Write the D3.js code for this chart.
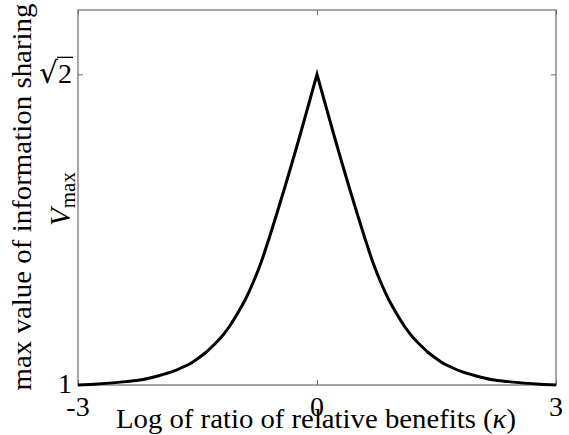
<!DOCTYPE html>
<html>
<head>
<meta charset="utf-8">
<script src="https://cdn.jsdelivr.net/npm/d3@7"></script>
<style>
  body { margin: 0; background: #fff; }
  text { font-family: "Liberation Serif", "DejaVu Serif", serif; fill: #000; }
</style>
</head>
<body>
<div id="my_dataviz"></div>
<script>
// values (curve is symmetric about kappa = 0)
var kappaHalf = [0, 0.1, 0.2, 0.3, 0.4, 0.5, 0.6, 0.7, 0.8, 0.9, 1.0, 1.1, 1.2, 1.3, 1.4, 1.5, 1.6, 1.7, 1.8, 2.0, 2.2, 2.4, 2.6, 2.8, 3.0];
var vmaxHalf  = [1.4142, 1.376, 1.338, 1.301, 1.265, 1.230, 1.196, 1.164, 1.137, 1.114, 1.095, 1.078, 1.064, 1.053, 1.043, 1.035, 1.028, 1.023, 1.0185, 1.012, 1.007, 1.0045, 1.0025, 1.001, 1.000];
var xTicks = [-3, 0, 3];
var xTickLabels = ["-3", "0", "3"];
var yTicks = [1, Math.SQRT2];

var width = 569, height = 435;
var margin = {top: 10, right: 13, bottom: 50, left: 78};
var w = width - margin.left - margin.right,
    h = height - margin.top - margin.bottom;

var svg = d3.select("#my_dataviz")
  .append("svg")
    .attr("width", width)
    .attr("height", height);

var g = svg.append("g")
    .attr("transform", "translate(" + margin.left + "," + margin.top + ")");

var x = d3.scaleLinear().domain([-3, 3]).range([0, w]);
var y = d3.scaleLinear().domain([1, 1.5]).range([h, 0]);

// the two halves of the curve, joined at the cusp
var leftHalf = kappaHalf.map((k, i) => [-k, vmaxHalf[i]]).reverse();
var rightHalf = kappaHalf.map((k, i) => [k, vmaxHalf[i]]);

var axisColor = "#6b6b6b";

// box
g.append("rect")
  .attr("x", 0).attr("y", 0)
  .attr("width", w).attr("height", h)
  .attr("fill", "none")
  .attr("stroke", axisColor)
  .attr("stroke-width", 1.2);

// inward ticks on all sides
function ticks(sel) {
  sel.select(".domain").remove();
  sel.selectAll("line").attr("stroke", axisColor);
}
g.append("g").attr("transform", "translate(0," + h + ")")
  .call(d3.axisBottom(x).tickValues(xTicks).tickSize(-5).tickFormat(""))
  .call(ticks);
g.append("g")
  .call(d3.axisTop(x).tickValues(xTicks).tickSize(-5).tickFormat(""))
  .call(ticks);
g.append("g")
  .call(d3.axisLeft(y).tickValues(yTicks).tickSize(-5).tickFormat(""))
  .call(ticks);
g.append("g").attr("transform", "translate(" + w + ",0)")
  .call(d3.axisRight(y).tickValues(yTicks).tickSize(-5).tickFormat(""))
  .call(ticks);

// x tick labels
g.selectAll(".xlab")
  .data(xTicks)
  .enter()
  .append("text")
    .attr("class", "xlab")
    .attr("x", d => x(d))
    .attr("y", h + 31)
    .attr("font-size", "28px")
    .style("text-anchor", "middle")
    .text((d, i) => xTickLabels[i]);

// y tick labels
g.append("text")
  .attr("x", -6).attr("y", y(1) + 8)
  .attr("font-size", "28px")
  .style("text-anchor", "end")
  .text("1");
var sq = g.append("text")
  .attr("x", -6).attr("y", y(Math.SQRT2) + 9)
  .attr("font-size", "28px")
  .style("text-anchor", "end");
sq.append("tspan").attr("font-family", "DejaVu Serif").attr("font-size", "30px").text("\u221A");
var two = sq.append("tspan").text("2");
// radical bar over the 2
var bb = two.node().getBBox();
g.append("line")
  .attr("x1", bb.x - 1).attr("x2", bb.x + bb.width + 1)
  .attr("y1", y(Math.SQRT2) - 17).attr("y2", y(Math.SQRT2) - 17)
  .attr("stroke", "#000").attr("stroke-width", 1.3);

// curve
var line = d3.line()
    .x(d => x(d[0]))
    .y(d => y(d[1]))
    .curve(d3.curveMonotoneX);
g.append("path")
  .attr("fill", "none")
  .attr("stroke", "#000")
  .attr("stroke-width", 3)
  .attr("stroke-linejoin", "miter")
  .attr("d", line(leftHalf) + line(rightHalf).replace(/^M/, "L"));

// x label
svg.append("text")
  .attr("x", 316)
  .attr("y", 428)
  .attr("font-size", "27px")
  .attr("textLength", 400)
  .attr("lengthAdjust", "spacingAndGlyphs")
  .style("text-anchor", "middle")
  .html("Log of ratio of relative benefits (<tspan font-style='italic'>\u03BA</tspan>)");

// y labels
svg.append("text")
  .attr("transform", "translate(31,197) rotate(-90)")
  .attr("font-size", "27px")
  .attr("textLength", 387)
  .attr("lengthAdjust", "spacingAndGlyphs")
  .style("text-anchor", "middle")
  .text("max value of information sharing");

var vl = svg.append("text")
  .attr("transform", "translate(70,199) rotate(-90)")
  .attr("font-size", "29px")
  .style("text-anchor", "middle");
vl.append("tspan").attr("font-style", "italic").text("V");
vl.append("tspan").attr("font-size", "21px").attr("dy", 5).text("max");
</script>
</body>
</html>
